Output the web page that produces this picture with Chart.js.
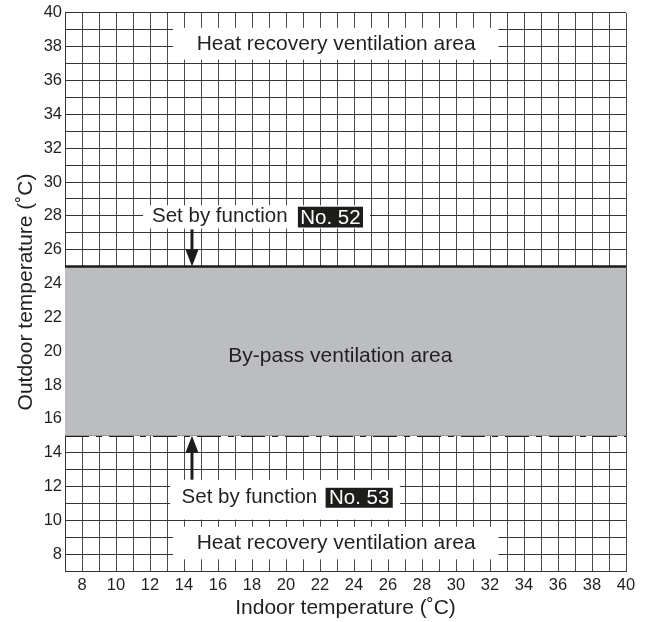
<!DOCTYPE html>
<html>
<head>
<meta charset="utf-8">
<script src="https://cdn.jsdelivr.net/npm/chart.js@4.4.1/dist/chart.umd.min.js"></script>
<style>
  body { margin: 0; background: #fff; }
  #wrap { width: 656px; height: 622px; }
</style>
</head>
<body>
<div id="wrap"><canvas id="vent-chart"></canvas></div>
<script>
// indoor temperature span of the chart and the by-pass band limits (outdoor temp)
const indoorRange = [7, 40];
const outdoorRange = [7, 40];
const bypassUpper = [25, 25]; // function No. 52
const bypassLower = [15, 15]; // function No. 53
const xTickLabels = [8, 10, 12, 14, 16, 18, 20, 22, 24, 26, 28, 30, 32, 34, 36, 38, 40];
const yTickLabels = [8, 10, 12, 14, 16, 18, 20, 22, 24, 26, 28, 30, 32, 34, 36, 38, 40];

const textColor = "#231f20";
const lineColor = "#1d1d1b";
const fontFamily = "'Liberation Sans', Arial, sans-serif";

// label boxes, given in chart units (indoor, outdoor)
const notes = {
  heatTop: { text: "Heat recovery ventilation area", cx: 22.95, cy: 38.17, box: [13.35, 39.12, 32.5, 37.24] },
  heatBottom: { text: "Heat recovery ventilation area", cx: 22.95, cy: 8.62, box: [13.35, 9.62, 32.5, 7.69] },
  bypass: { text: "By-pass ventilation area", cx: 23.2, cy: 19.7 },
  set52: { text: "Set by function", no: "No. 52", x: 12.12, cy: 27.96, box: [11.59, 28.62, 24.94, 27.25], tag: [20.7, 28.54, 24.53, 27.31] },
  set53: { text: "Set by function", no: "No. 53", x: 13.86, cy: 11.34, box: [13.18, 12.39, 26.7, 10.04], tag: [22.33, 11.92, 26.28, 10.74] },
};
const arrows = [
  { x: 14.47, from: 27.2, to: 25 },
  { x: 14.47, from: 12.4, to: 15 },
];

function fillBox(ctx, x, y, b, color) {
  const x0 = x.getPixelForValue(b[0]);
  const y0 = y.getPixelForValue(b[1]);
  const x1 = x.getPixelForValue(b[2]);
  const y1 = y.getPixelForValue(b[3]);
  ctx.fillStyle = color;
  ctx.fillRect(x0, y0, x1 - x0, y1 - y0);
}

const annotate = {
  id: "annotate",
  afterDatasetsDraw(chart) {
    const { ctx, scales: { x, y } } = chart;
    ctx.save();
    ctx.textBaseline = "middle";

    ctx.font = "21px " + fontFamily;
    [notes.heatTop, notes.heatBottom].forEach((n) => {
      fillBox(ctx, x, y, n.box, "#fff");
      ctx.fillStyle = textColor;
      ctx.textAlign = "center";
      ctx.fillText(n.text, x.getPixelForValue(n.cx), y.getPixelForValue(n.cy));
    });

    ctx.fillStyle = textColor;
    ctx.textAlign = "center";
    ctx.fillText(notes.bypass.text, x.getPixelForValue(notes.bypass.cx), y.getPixelForValue(notes.bypass.cy));

    ctx.font = "20.5px " + fontFamily;
    [notes.set52, notes.set53].forEach((n) => {
      fillBox(ctx, x, y, n.box, "#fff");
      fillBox(ctx, x, y, n.tag, "#1d1d1b");
      ctx.fillStyle = textColor;
      ctx.textAlign = "left";
      ctx.fillText(n.text, x.getPixelForValue(n.x), y.getPixelForValue(n.cy));
      ctx.fillStyle = "#fff";
      ctx.textAlign = "center";
      const tx = (x.getPixelForValue(n.tag[0]) + x.getPixelForValue(n.tag[2])) / 2;
      const ty = (y.getPixelForValue(n.tag[1]) + y.getPixelForValue(n.tag[3])) / 2;
      ctx.fillText(n.no, tx, ty + 1);
    });

    arrows.forEach((a) => {
      const px = x.getPixelForValue(a.x);
      const y0 = y.getPixelForValue(a.from);
      const y1 = y.getPixelForValue(a.to);
      const dir = y1 > y0 ? 1 : -1;
      const head = 17;
      ctx.strokeStyle = lineColor;
      ctx.lineWidth = 3;
      ctx.beginPath();
      ctx.moveTo(px, y0);
      ctx.lineTo(px, y1 - dir * head);
      ctx.stroke();
      ctx.fillStyle = lineColor;
      ctx.beginPath();
      ctx.moveTo(px, y1);
      ctx.lineTo(px - 6.5, y1 - dir * head);
      ctx.lineTo(px + 6.5, y1 - dir * head);
      ctx.closePath();
      ctx.fill();
    });
    ctx.restore();
  },
};

new Chart(document.getElementById("vent-chart"), {
  type: "line",
  data: {
    datasets: [
      {
        label: "Set by function No. 52",
        data: indoorRange.map((v, i) => ({ x: v, y: bypassUpper[i] })),
        borderColor: lineColor,
        borderWidth: 2.5,
        backgroundColor: "#bcbdc1",
        fill: "+1",
        pointRadius: 0,
      },
      {
        label: "Set by function No. 53",
        data: indoorRange.map((v, i) => ({ x: v, y: bypassLower[i] })),
        borderColor: lineColor,
        borderWidth: 2.5,
        borderDash: [24, 7, 6, 7],
        fill: false,
        pointRadius: 0,
      },
    ],
  },
  options: {
    responsive: true,
    maintainAspectRatio: false,
    animation: false,
    layout: { padding: { left: 0, right: 30, top: 10, bottom: 0 } },
    plugins: {
      legend: { display: false },
      tooltip: { enabled: false },
    },
    scales: {
      x: {
        type: "linear",
        min: indoorRange[0],
        max: indoorRange[1],
        border: { color: "#333", width: 1 },
        grid: { color: "#4a4a4a", lineWidth: 1, drawTicks: false },
        ticks: {
          stepSize: 1,
          autoSkip: false,
          maxRotation: 0,
          padding: 5,
          color: textColor,
          font: { family: fontFamily, size: 16.5 },
          callback: (v) => (xTickLabels.includes(v) ? String(v) : ""),
        },
        title: {
          display: true,
          text: "Indoor temperature (˚C)",
          color: textColor,
          font: { family: fontFamily, size: 21 },
          padding: { top: 0, bottom: 1 },
        },
        afterFit: (s) => { s.height = 51; },
      },
      y: {
        type: "linear",
        min: outdoorRange[0],
        max: outdoorRange[1],
        border: { color: "#333", width: 1 },
        grid: { color: "#333", lineWidth: 1, drawTicks: false },
        ticks: {
          stepSize: 1,
          autoSkip: false,
          padding: 3,
          color: textColor,
          font: { family: fontFamily, size: 16.5 },
          callback: (v) => (yTickLabels.includes(v) ? String(v) : ""),
        },
        title: {
          display: true,
          text: "Outdoor temperature (˚C)",
          color: textColor,
          font: { family: fontFamily, size: 21 },
          padding: { top: 14, bottom: 0 },
        },
        afterFit: (s) => { s.width = 65; },
      },
    },
  },
  plugins: [annotate],
});
</script>
</body>
</html>
